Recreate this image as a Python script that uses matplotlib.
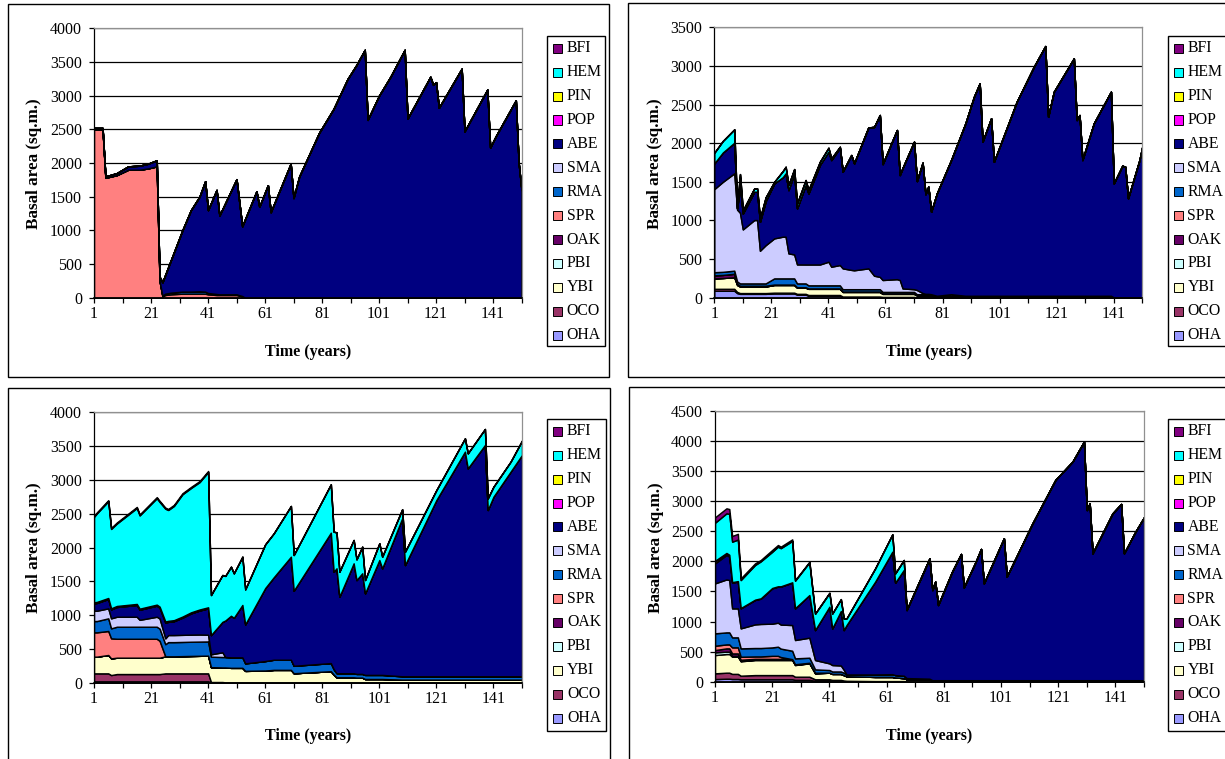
import matplotlib
matplotlib.use("Agg")
import matplotlib.pyplot as plt
from matplotlib.patches import Rectangle

plt.rcParams['font.family'] = ['Liberation Serif', 'DejaVu Serif']

# ---------------- species (bottom -> top of the stack) ----------------
species = ['OHA', 'OCO', 'YBI', 'PBI', 'OAK', 'SPR', 'RMA', 'SMA', 'ABE', 'POP', 'PIN', 'HEM', 'BFI']
species_colors = ['#9999FF', '#993366', '#FFFFCC', '#CCFFFF', '#660066', '#FF8080', '#0066CC',
                  '#CCCCFF', '#000080', '#FF00FF', '#FFFF00', '#00FFFF', '#800080']

xtick_labels_years = [1, 21, 41, 61, 81, 101, 121, 141]
xtick_minor_years = [11, 31, 51, 71, 91, 111, 131, 151]

# ---------------- panel 1 (top left) ----------------
p1_years = [1, 4, 5, 9, 13, 17, 20, 23, 24, 25,
            26, 28, 32, 35, 38, 40, 41, 44, 45, 51,
            53, 54, 58, 59, 62, 63, 70, 71, 73, 80,
            85, 90, 93, 96, 97, 101, 105, 110, 111, 119,
            120, 121, 122, 130, 131, 139, 140, 142, 149, 150,
            151]
p1_SPR = [2500, 2500, 1780, 1820, 1900, 1900, 1920, 1950, 250, 20,
          40, 50, 60, 60, 60, 60, 50, 40, 40, 40,
          20, 0, 0, 0, 0, 0, 0, 0, 0, 0,
          0, 0, 0, 0, 0, 0, 0, 0, 0, 0,
          0, 0, 0, 0, 0, 0, 0, 0, 0, 0,
          0]
p1_RMA = [0, 0, 0, 0, 0, 0, 0, 0, 0, 10,
          20, 25, 30, 30, 35, 30, 20, 15, 10, 10,
          5, 0, 0, 0, 0, 0, 0, 0, 0, 0,
          0, 0, 0, 0, 0, 0, 0, 0, 0, 0,
          0, 0, 0, 0, 0, 0, 0, 0, 0, 0,
          0]
p1_ABE = [20, 20, 20, 30, 50, 60, 70, 90, 60, 200,
          280, 485, 910, 1210, 1405, 1640, 1230, 1545, 1170, 1710,
          1035, 1165, 1580, 1350, 1670, 1270, 1990, 1480, 1800, 2450,
          2800, 3250, 3450, 3680, 2640, 3000, 3280, 3680, 2660, 3280,
          3160, 3200, 2820, 3400, 2470, 3090, 2230, 2400, 2930, 2000,
          1600]

# ---------------- panel 2 (top right) ----------------
p2_years = [1, 4, 8, 9, 10, 11, 15, 16, 17, 19,
            22, 25, 26, 27, 29, 30, 33, 34, 38, 41,
            42, 45, 46, 49, 50, 55, 57, 59, 60, 65,
            66, 67, 71, 72, 74, 75, 76, 77, 79, 84,
            89, 92, 94, 95, 98, 99, 107, 113, 117, 118,
            120, 127, 128, 129, 130, 134, 140, 141, 144, 145,
            146, 150, 151]
p2_OHA = [90, 90, 90, 60, 50, 50, 50, 50, 50, 50,
          55, 55, 55, 55, 55, 40, 40, 25, 25, 25,
          25, 25, 10, 10, 10, 10, 10, 10, 5, 5,
          5, 5, 5, 0, 0, 0, 0, 0, 0, 0,
          0, 0, 0, 0, 0, 0, 0, 0, 0, 0,
          0, 0, 0, 0, 0, 0, 0, 0, 0, 0,
          0, 0, 0]
p2_OCO = [25, 25, 25, 15, 10, 10, 10, 10, 10, 10,
          10, 10, 10, 10, 10, 10, 10, 10, 10, 10,
          10, 10, 5, 5, 5, 5, 5, 5, 5, 5,
          5, 5, 5, 5, 5, 5, 5, 5, 5, 5,
          5, 5, 5, 5, 5, 5, 5, 5, 5, 5,
          5, 5, 5, 5, 5, 5, 5, 0, 0, 0,
          0, 0, 0]
p2_YBI = [135, 140, 150, 90, 85, 85, 85, 85, 85, 85,
          100, 100, 100, 100, 100, 80, 80, 80, 80, 80,
          80, 80, 60, 60, 60, 60, 60, 60, 40, 40,
          40, 40, 40, 25, 25, 25, 25, 25, 5, 5,
          5, 5, 5, 5, 5, 5, 5, 5, 5, 5,
          5, 5, 5, 5, 5, 5, 5, 0, 0, 0,
          0, 0, 0]
p2_OAK = [40, 40, 45, 15, 10, 10, 10, 10, 10, 10,
          5, 5, 5, 5, 5, 5, 5, 5, 5, 5,
          5, 5, 5, 5, 5, 5, 5, 5, 5, 5,
          5, 5, 5, 5, 5, 5, 5, 5, 10, 10,
          10, 10, 10, 10, 10, 10, 10, 10, 10, 10,
          10, 10, 10, 10, 10, 10, 10, 5, 5, 5,
          5, 5, 5]
p2_RMA = [40, 40, 40, 30, 30, 30, 30, 30, 30, 30,
          80, 80, 80, 80, 80, 50, 50, 40, 40, 40,
          40, 40, 30, 30, 30, 30, 30, 30, 20, 20,
          20, 20, 20, 10, 10, 10, 10, 10, 5, 5,
          5, 5, 5, 5, 5, 5, 5, 5, 5, 5,
          5, 5, 5, 5, 5, 5, 5, 0, 0, 0,
          0, 0, 0]
p2_SMA = [1076, 1165, 1260, 930, 915, 699, 820, 820, 423, 495,
          518, 540, 540, 324, 310, 246, 245, 270, 270, 306,
          241, 263, 270, 250, 245, 270, 175, 160, 154, 165,
          154, 45, 35, 55, 15, 5, 5, 0, 0, 20,
          0, 0, 0, 0, 0, 0, 0, 0, 0, 0,
          0, 0, 0, 0, 0, 0, 0, 0, 0, 0,
          0, 0, 0]
p2_ABE = [333, 380, 396, 16, 350, 206, 367, 367, 375, 570,
          712, 770, 819, 819, 1049, 725, 1028, 920, 1290, 1424,
          1381, 1517, 1251, 1486, 1384, 1824, 1925, 2094, 1501, 1930,
          1359, 1560, 1909, 1410, 1687, 1290, 1387, 1068, 1325, 1737,
          2231, 2576, 2749, 1994, 2296, 1735, 2512, 2965, 3232, 2318,
          2641, 3072, 2275, 2339, 1757, 2231, 2641, 1475, 1703, 1690,
          1281, 1777, 1949]
p2_HEM = [138, 150, 173, 4, 150, 40, 43, 43, 44, 50,
          20, 80, 86, 65, 56, 64, 65, 43, 40, 51,
          21, 14, 0, 0, 0, 0, 0, 0, 0, 0,
          0, 0, 0, 0, 0, 0, 0, 0, 0, 0,
          0, 0, 0, 0, 0, 0, 0, 0, 0, 0,
          0, 0, 0, 0, 0, 0, 0, 0, 0, 0,
          0, 0, 0]

# ---------------- panel 3 (bottom left) ----------------
p3_years = [1, 2, 6, 7, 9, 16, 17, 23, 24, 26,
            27, 29, 32, 35, 38, 41, 42, 46, 47, 49,
            50, 53, 54, 61, 64, 70, 71, 84, 85, 86,
            87, 92, 93, 95, 96, 101, 102, 109, 110, 121,
            131, 132, 138, 139, 141, 147, 151]
p3_OHA = [20, 20, 20, 20, 20, 20, 20, 20, 20, 20,
          20, 20, 20, 20, 20, 20, 5, 5, 0, 0,
          0, 0, 0, 0, 0, 0, 0, 0, 0, 0,
          0, 0, 0, 0, 0, 0, 0, 0, 0, 0,
          0, 0, 0, 0, 0, 0, 0]
p3_OCO = [118, 118, 118, 93, 108, 108, 108, 108, 108, 118,
          118, 118, 118, 118, 118, 118, 5, 5, 5, 5,
          5, 5, 5, 5, 5, 5, 5, 5, 5, 5,
          5, 5, 5, 5, 5, 5, 5, 5, 5, 5,
          5, 5, 5, 5, 5, 5, 5]
p3_YBI = [247, 247, 272, 247, 242, 242, 242, 242, 242, 252,
          252, 252, 255, 258, 260, 262, 220, 215, 220, 215,
          215, 215, 170, 175, 185, 185, 135, 165, 115, 75,
          75, 75, 70, 70, 50, 50, 50, 40, 40, 40,
          40, 40, 40, 40, 40, 40, 40]
p3_SPR = [360, 360, 355, 296, 280, 280, 280, 280, 250, 0,
          0, 0, 0, 0, 0, 0, 0, 0, 0, 0,
          0, 0, 0, 0, 0, 0, 0, 0, 0, 0,
          0, 0, 0, 0, 0, 0, 0, 0, 0, 0,
          0, 0, 0, 0, 0, 0, 0]
p3_RMA = [167, 167, 187, 148, 178, 178, 178, 178, 180, 180,
          210, 210, 210, 210, 210, 210, 155, 155, 155, 155,
          155, 155, 111, 140, 150, 150, 110, 120, 80, 60,
          60, 60, 55, 55, 60, 60, 60, 50, 50, 50,
          50, 50, 50, 50, 50, 50, 50]
p3_SMA = [153, 153, 148, 148, 148, 148, 102, 148, 150, 86,
          105, 105, 105, 105, 105, 100, 35, 70, 0, 0,
          0, 0, 0, 0, 0, 0, 0, 0, 0, 0,
          0, 0, 0, 0, 0, 0, 0, 0, 0, 0,
          0, 0, 0, 0, 0, 0, 0]
p3_ABE = [109, 115, 138, 133, 144, 174, 150, 164, 160, 234,
          195, 205, 255, 315, 355, 390, 285, 450, 540, 615,
          585, 775, 577, 1080, 1220, 1524, 1111, 1929, 1442, 1552,
          1132, 1626, 1389, 1488, 1207, 1700, 1577, 2336, 1646, 2608,
          3323, 3076, 3421, 2460, 2657, 3027, 3274]
p3_PIN = [15, 15, 15, 15, 15, 15, 15, 15, 15, 15,
          15, 15, 15, 15, 15, 15, 0, 0, 0, 0,
          0, 0, 0, 0, 0, 0, 0, 0, 0, 0,
          0, 0, 0, 0, 0, 0, 0, 0, 0, 0,
          0, 0, 0, 0, 0, 0, 0]
p3_HEM = [1266, 1310, 1432, 1175, 1220, 1420, 1380, 1575, 1550, 1670,
          1640, 1690, 1810, 1840, 1885, 2002, 592, 693, 660, 726,
          658, 714, 518, 647, 650, 750, 528, 716, 592, 532,
          370, 345, 306, 394, 197, 247, 172, 134, 197, 148,
          197, 222, 237, 172, 148, 148, 212]
p3_BFI = [15, 15, 15, 15, 15, 15, 15, 15, 15, 15,
          15, 15, 15, 15, 15, 15, 0, 0, 0, 0,
          0, 0, 0, 0, 0, 0, 0, 0, 0, 0,
          0, 0, 0, 0, 0, 0, 0, 0, 0, 0,
          0, 0, 0, 0, 0, 0, 0]

# ---------------- panel 4 (bottom right) ----------------
p4_years = [1, 5, 6, 7, 9, 10, 15, 17, 21, 23,
            24, 28, 29, 34, 36, 41, 42, 45, 46, 47,
            57, 63, 64, 67, 68, 76, 77, 78, 79, 84,
            87, 88, 92, 94, 95, 102, 103, 112, 120, 126,
            130, 131, 132, 133, 140, 143, 144, 148, 151]
p4_OHA = [44, 50, 50, 45, 45, 40, 40, 40, 40, 40,
          40, 40, 30, 30, 15, 15, 10, 10, 5, 5,
          0, 0, 0, 0, 0, 0, 0, 0, 0, 0,
          0, 0, 0, 0, 0, 0, 0, 0, 0, 0,
          0, 0, 0, 0, 0, 0, 0, 0, 0]
p4_OCO = [95, 100, 100, 85, 85, 60, 70, 70, 70, 70,
          70, 70, 53, 53, 25, 25, 20, 20, 15, 10,
          10, 10, 10, 10, 5, 5, 5, 5, 5, 5,
          5, 5, 5, 5, 5, 5, 5, 5, 5, 5,
          5, 5, 5, 5, 5, 5, 5, 5, 5]
p4_YBI = [304, 310, 310, 286, 286, 240, 250, 250, 250, 250,
          250, 250, 194, 222, 99, 110, 100, 100, 90, 75,
          70, 70, 60, 50, 35, 35, 10, 10, 10, 10,
          10, 10, 10, 10, 10, 10, 10, 10, 10, 10,
          10, 10, 10, 10, 10, 10, 10, 10, 10]
p4_PBI = [45, 39, 39, 14, 14, 5, 5, 5, 5, 5,
          5, 5, 3, 3, 1, 0, 0, 0, 0, 0,
          0, 0, 0, 0, 0, 0, 0, 0, 0, 0,
          0, 0, 0, 0, 0, 0, 0, 0, 0, 0,
          0, 0, 0, 0, 0, 0, 0, 0, 0]
p4_OAK = [38, 55, 55, 40, 40, 20, 15, 15, 15, 15,
          15, 10, 10, 7, 10, 0, 0, 0, 0, 0,
          0, 0, 0, 0, 0, 0, 5, 5, 5, 5,
          5, 5, 5, 5, 5, 5, 5, 5, 5, 5,
          5, 5, 5, 5, 5, 5, 5, 5, 5]
p4_SPR = [72, 66, 66, 101, 101, 50, 40, 40, 50, 50,
          30, 0, 0, 0, 0, 0, 0, 0, 0, 0,
          0, 0, 0, 0, 0, 0, 0, 0, 0, 0,
          0, 0, 0, 0, 0, 0, 0, 0, 0, 0,
          0, 0, 0, 0, 0, 0, 0, 0, 0]
p4_RMA = [206, 200, 200, 166, 166, 139, 140, 140, 140, 152,
          140, 140, 98, 84, 55, 44, 40, 40, 40, 30,
          40, 45, 40, 40, 20, 10, 5, 5, 5, 5,
          5, 5, 5, 5, 5, 5, 5, 5, 5, 5,
          5, 5, 5, 5, 5, 5, 5, 5, 5]
p4_SMA = [831, 880, 870, 482, 482, 333, 393, 400, 395, 399,
          400, 427, 305, 333, 155, 111, 107, 100, 50, 0,
          0, 0, 0, 0, 0, 0, 0, 0, 0, 0,
          0, 0, 0, 0, 0, 0, 0, 0, 0, 0,
          0, 0, 0, 0, 0, 0, 0, 0, 0]
p4_ABE = [332, 406, 390, 427, 444, 332, 405, 420, 587, 599,
          630, 704, 526, 709, 499, 942, 610, 905, 659, 822,
          1543, 2036, 1536, 1757, 1132, 2000, 1499, 1638, 1250, 1815,
          2098, 1543, 1953, 2181, 1610, 2358, 1721, 2607, 3328, 3633,
          3965, 2829, 2940, 2109, 2774, 2929, 2109, 2469, 2707]
p4_POP = [33, 24, 20, 4, 4, 3, 3, 3, 3, 3,
          3, 3, 1, 0, 0, 0, 0, 0, 0, 0,
          0, 0, 0, 0, 0, 0, 0, 0, 0, 0,
          0, 0, 0, 0, 0, 0, 0, 0, 0, 0,
          0, 0, 0, 0, 0, 0, 0, 0, 0]
p4_PIN = [10, 10, 10, 5, 5, 3, 3, 3, 3, 3,
          3, 3, 2, 0, 0, 0, 0, 0, 0, 0,
          0, 0, 0, 0, 0, 0, 0, 0, 0, 0,
          0, 0, 0, 0, 0, 0, 0, 0, 0, 0,
          0, 0, 0, 0, 0, 0, 0, 0, 0]
p4_HEM = [633, 659, 680, 673, 691, 465, 576, 615, 602, 659,
          634, 688, 458, 544, 271, 228, 246, 195, 191, 111,
          221, 289, 155, 166, 0, 0, 0, 0, 0, 0,
          0, 0, 0, 0, 0, 0, 0, 0, 0, 0,
          0, 0, 0, 0, 0, 0, 0, 0, 0]
p4_BFI = [89, 83, 80, 94, 95, 28, 27, 22, 30, 27,
          25, 26, 10, 10, 6, 5, 3, 4, 3, 0,
          0, 0, 0, 0, 0, 0, 0, 0, 0, 0,
          0, 0, 0, 0, 0, 0, 0, 0, 0, 0,
          0, 0, 0, 0, 0, 0, 0, 0, 0]

p1_series = {'SPR': p1_SPR, 'RMA': p1_RMA, 'ABE': p1_ABE}
p2_series = {'OHA': p2_OHA, 'OCO': p2_OCO, 'YBI': p2_YBI, 'OAK': p2_OAK, 'RMA': p2_RMA,
             'SMA': p2_SMA, 'ABE': p2_ABE, 'HEM': p2_HEM}
p3_series = {'OHA': p3_OHA, 'OCO': p3_OCO, 'YBI': p3_YBI, 'SPR': p3_SPR, 'RMA': p3_RMA,
             'SMA': p3_SMA, 'ABE': p3_ABE, 'PIN': p3_PIN, 'HEM': p3_HEM, 'BFI': p3_BFI}
p4_series = {'OHA': p4_OHA, 'OCO': p4_OCO, 'YBI': p4_YBI, 'PBI': p4_PBI, 'OAK': p4_OAK,
             'SPR': p4_SPR, 'RMA': p4_RMA, 'SMA': p4_SMA, 'ABE': p4_ABE, 'POP': p4_POP,
             'PIN': p4_PIN, 'HEM': p4_HEM, 'BFI': p4_BFI}

# ---------------- layout (pixel geometry) ----------------
W, H = 1225, 759
fig = plt.figure(figsize=(W / 100, H / 100), dpi=100)


def fx(px):
    return px / W


def fy(py):
    return 1 - py / H


panels = [
    dict(years=p1_years, series=p1_series, ymax=4000,
         frame=(8, 4, 609, 376.5), plot=(94, 28.3, 521.5, 297.7),
         legend=(546.5, 36, 604.5, 346), ylab=(34, 164), xlab=(308, 352)),
    dict(years=p2_years, series=p2_series, ymax=3500,
         frame=(628, 3, 1240, 376.5), plot=(714.3, 27.3, 1142.3, 297.7),
         legend=(1167.5, 36, 1240, 346), ylab=(655, 164), xlab=(929, 352)),
    dict(years=p3_years, series=p3_series, ymax=4000,
         frame=(8, 388, 610, 770), plot=(94, 412.3, 522, 682.7),
         legend=(547, 419, 606, 731), ylab=(34, 548), xlab=(308, 736)),
    dict(years=p4_years, series=p4_series, ymax=4500,
         frame=(629, 387, 1240, 770), plot=(715, 411, 1144, 681.7),
         legend=(1167.5, 419, 1240, 731), ylab=(656, 548), xlab=(929, 736)),
]

FS_TICK = 11.5
FS_LEG = 11.3
FS_XLAB = 11.5
FS_YLAB = 12.3

for p in panels:
    # outer chart frame
    l, t, r, b = p['frame']
    fig.add_artist(Rectangle((fx(l), fy(b)), fx(r) - fx(l), fy(t) - fy(b),
                             transform=fig.transFigure, fill=False,
                             edgecolor='black', linewidth=1.0, zorder=0))

    l, t, r, b = p['plot']
    ax = fig.add_axes([fx(l), fy(b), fx(r) - fx(l), fy(t) - fy(b)])
    n = len(p['years'])
    ys = [p['series'].get(s, [0] * n) for s in species]
    ax.stackplot(p['years'], *ys, colors=species_colors,
                 edgecolor='black', linewidth=1.05)
    ax.set_xlim(1, 151)
    ax.set_ylim(0, p['ymax'])
    ax.set_yticks(list(range(0, p['ymax'] + 1, 500)))
    ax.set_xticks(xtick_labels_years)
    ax.set_xticks(xtick_minor_years, minor=True)
    ax.set_xticklabels([str(v) for v in xtick_labels_years])
    ax.tick_params(axis='both', which='both', direction='out', length=3.6,
                   width=0.9, color='black', labelsize=FS_TICK)
    ax.tick_params(axis='x', which='both', pad=2.5)
    ax.tick_params(axis='y', pad=5)
    ax.yaxis.grid(True, color='black', linewidth=0.9)
    ax.set_axisbelow(True)
    ax.spines['left'].set_color('black')
    ax.spines['bottom'].set_color('black')
    ax.spines['left'].set_linewidth(0.9)
    ax.spines['bottom'].set_linewidth(1.2)
    ax.spines['top'].set_color('#909090')
    ax.spines['right'].set_color('#909090')
    ax.spines['top'].set_linewidth(0.9)
    ax.spines['right'].set_linewidth(0.9)
    ax.set_facecolor('none')

    # axis titles
    x0, y0 = p['ylab']
    fig.text(fx(x0), fy(y0), 'Basal area (sq.m.)', rotation=90, ha='center', va='center',
             fontsize=FS_YLAB, fontweight='bold')
    x0, y0 = p['xlab']
    fig.text(fx(x0), fy(y0), 'Time (years)', ha='center', va='center',
             fontsize=FS_XLAB, fontweight='bold')

    # legend (top entry = top of the stack)
    l, t, r, b = p['legend']
    fig.add_artist(Rectangle((fx(l), fy(b)), fx(r) - fx(l), fy(t) - fy(b),
                             transform=fig.transFigure, facecolor='white',
                             edgecolor='black', linewidth=1.0, zorder=3))
    for i, (name, col) in enumerate(zip(species[::-1], species_colors[::-1])):
        yc = t + 12.3 + i * 23.9
        fig.add_artist(Rectangle((fx(l + 6), fy(yc + 4.5)), fx(9), 9 / H,
                                 transform=fig.transFigure, facecolor=col,
                                 edgecolor='black', linewidth=0.7, zorder=4))
        fig.text(fx(l + 20), fy(yc), name, ha='left', va='center', fontsize=FS_LEG, zorder=5)

fig.savefig('out.png', dpi=100, facecolor='white')
